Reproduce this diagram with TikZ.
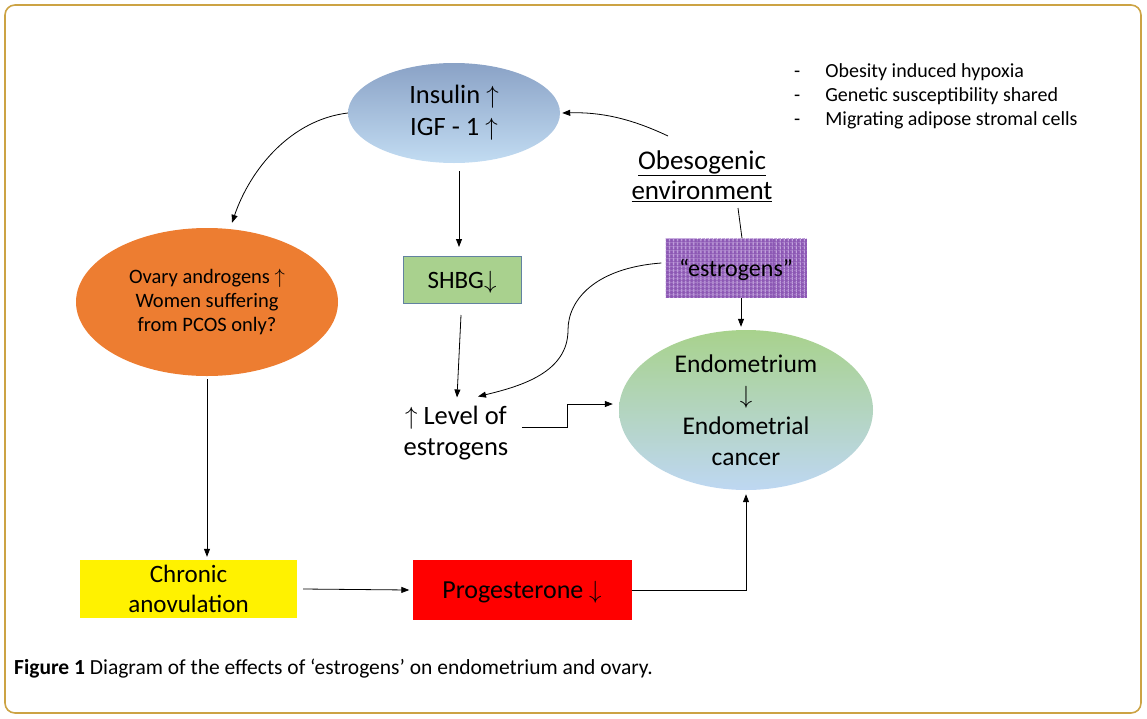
\documentclass[tikz,border=0pt]{standalone}
\usepackage{fontspec}
\setmainfont{Carlito}
\newcommand{\arrUp}{$\uparrow$}
\newcommand{\arrDn}{$\downarrow$}
\usetikzlibrary{shapes.geometric, arrows.meta, patterns.meta}
\definecolor{goldLine}{RGB}{204,163,68}
\definecolor{insTop}{RGB}{138,162,198}
\definecolor{insBot}{RGB}{194,220,242}
\definecolor{ovaOrange}{RGB}{237,125,49}
\definecolor{shbgGreen}{RGB}{169,209,142}
\definecolor{shbgEdge}{RGB}{98,130,160}
\definecolor{endoTop}{RGB}{168,210,140}
\definecolor{endoBot}{RGB}{190,215,242}
\definecolor{estrPurple}{RGB}{140,88,180}
\definecolor{estrLight}{RGB}{196,164,224}
\tikzset{
  nodeOval/.style={ellipse, inner sep=0pt, align=center},
  nodeBox/.style={rectangle, inner sep=0pt, align=center},
  linkArrow/.style={-{Triangle[length=8pt,width=6pt]}, line width=0.8pt},
  linkPlain/.style={line width=0.8pt}
}

\begin{document}
\begin{tikzpicture}[x=1pt, y=-1pt]
  \useasboundingbox (0,0) rectangle (1147,718);
  \draw[goldLine, line width=1.6pt, rounded corners=10pt] (5,5) rectangle (1141,713);

  \node[nodeOval, minimum width=212pt, minimum height=100pt, inner ysep=-6pt, top color=insTop, bottom color=insBot, font=\fontsize{26.5}{32}\selectfont] (Ins) at (454,113) {Insulin \arrUp\\IGF - 1 \arrUp};
  \node[nodeOval, minimum width=262pt, minimum height=148pt, fill=ovaOrange, font=\fontsize{20.5}{24}\selectfont] (Ova) at (207,302) {Ovary androgens \arrUp\\Women suffering\\from PCOS only?};
  \node[nodeBox, minimum width=118pt, minimum height=47pt, text depth=0pt, fill=shbgGreen, draw=shbgEdge, line width=1pt, font=\fontsize{25}{28}\selectfont] (Shbg) at (462,280) {SHBG\arrDn};
  \node[align=center, font=\fontsize{26.5}{31}\selectfont] (Lev) at (456,433) {\arrUp\ Level of\\estrogens};
  \node[nodeOval, minimum width=254pt, minimum height=160pt, inner ysep=-16pt, top color=endoTop, bottom color=endoBot, font=\fontsize{25.5}{31}\selectfont] (Endo) at (746,410) {Endometrium\\\arrDn\\Endometrial\\cancer};
  \node[align=center, font=\fontsize{27}{30}\selectfont] (Obe) at (702,176) {\underline{Obesogenic}\\\underline{environment}};
  \node[nodeBox, minimum width=141pt, minimum height=59pt, text depth=0pt, fill=estrPurple,
    postaction={pattern={Lines[angle=90,distance=4pt,line width=1.3pt]}, pattern color=estrLight},
    postaction={pattern={Lines[angle=0,distance=4pt,line width=0.7pt]}, pattern color=estrLight!60!estrPurple},
    font=\fontsize{24}{26}\selectfont] (Estr) at (736,268) {“estrogens”};
  \node[nodeBox, minimum width=217pt, minimum height=58pt, fill=yellow, font=\fontsize{25}{30}\selectfont] (Chr) at (188.5,589) {Chronic\\anovulation};
  \node[nodeBox, minimum width=219pt, minimum height=60pt, text depth=0pt, fill=red, font=\fontsize{26}{28}\selectfont] (Prog) at (522,590) {Progesterone \arrDn};
  \node[anchor=west, inner sep=0pt, font=\fontsize{20}{24}\selectfont] (Bul) at (794,97) {\begin{tabular}{@{}l@{\hspace{25pt}}l@{}}-&Obesity induced hypoxia\\-&Genetic susceptibility shared\\-&Migrating adipose stromal cells\end{tabular}};
  \node[anchor=west, inner sep=0pt, font=\fontsize{21.5}{24}\selectfont] (Cap) at (14,669) {\textbf{Figure 1} Diagram of the effects of ‘estrogens’ on endometrium and ovary.};

  \coordinate (obeTop) at (668,136);
  \draw[linkArrow] (obeTop) .. controls (630,118) and (600,112) .. ([xshift=2pt]Ins.east);
  \draw[linkArrow] (Ins.west) .. controls (290,120) and (250,170) .. ([xshift=25pt,yshift=5pt]Ova.north);
  \draw[linkArrow] ([xshift=5pt,yshift=-8pt]Ins.south) -- ([xshift=-3pt,yshift=9pt]Shbg.north);
  \draw[linkArrow] ([xshift=-1pt,yshift=-11pt]Shbg.south) -- ([xshift=1pt,yshift=5pt]Lev.north);
  \draw[linkArrow] ([xshift=-4pt,yshift=5pt]Estr.west) .. controls (595,268) and (568,300) .. (568,330)
    .. controls (568,372) and (522,386) .. ([xshift=22pt,yshift=6pt]Lev.north);
  \draw[linkArrow] ([xshift=10pt,yshift=6pt]Lev.east) -- ++(46,0) |- ([xshift=-6pt,yshift=6pt]Endo.west);
  \draw[linkPlain] ([xshift=36pt,yshift=-3pt]Obe.south) -- ([xshift=6pt]Estr.north);
  \draw[linkArrow] ([xshift=5pt]Estr.south) -- ([xshift=-5pt,yshift=3pt]Endo.north);
  \draw[linkArrow] ([yshift=-3pt]Ova.south) -- ([yshift=3pt]Ova.south |- Chr.north);
  \draw[linkArrow] ([xshift=6pt]Chr.east) -- ([xshift=-3pt]Prog.west);
  \draw[linkArrow] (Prog.east) -| ([yshift=-4pt]Endo.south);
\end{tikzpicture}
\end{document}
